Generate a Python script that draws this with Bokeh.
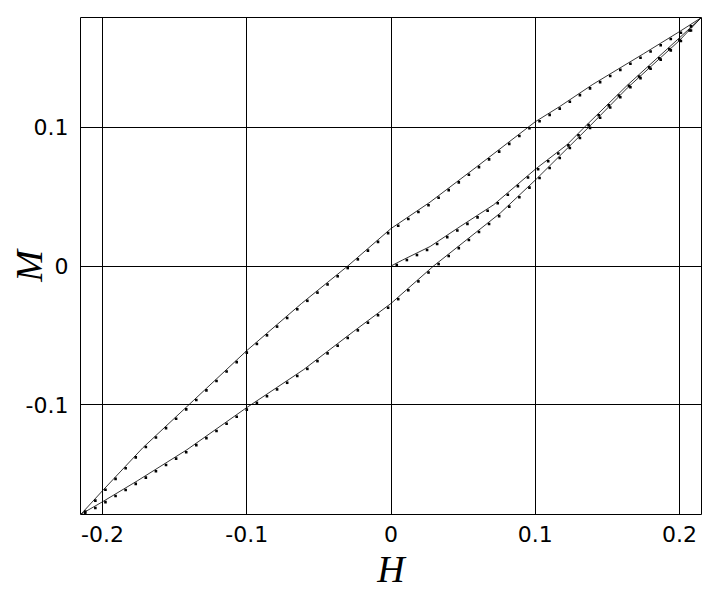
from bokeh.plotting import figure
from bokeh.models import Range1d, FixedTicker
from bokeh.embed import file_html
from bokeh.resources import INLINE

# ---- data ----
x_ticks = [-0.2, -0.1, 0.0, 0.1, 0.2]
x_tick_labels = ["-0.2", "-0.1", "0", "0.1", "0.2"]
y_ticks = [-0.1, 0.0, 0.1]
y_tick_labels = ["-0.1", "0", "0.1"]

# descending (upper) branch - solid line
desc_H = [0.215, 0.200, 0.175, 0.140, 0.117, 0.100, 0.060, 0.027, 0.000, -0.030,
          -0.062, -0.100, -0.137, -0.172, -0.200, -0.215]
desc_M = [0.179, 0.169, 0.153, 0.131, 0.115, 0.104, 0.072, 0.046, 0.027, 0.000,
          -0.027, -0.061, -0.097, -0.131, -0.162, -0.179]

# ascending (lower) branch - solid line
asc_H = [-0.215, -0.200, -0.176, -0.1415, -0.1006, -0.0607, -0.026, 0.000, 0.0295,
         0.0757, 0.1002, 0.137, 0.164, 0.200, 0.215]
asc_M = [-0.179, -0.170, -0.155, -0.1325, -0.1025, -0.0748, -0.0472, -0.027, 0.000,
         0.0381, 0.0621, 0.100, 0.1285, 0.1626, 0.179]

# initial magnetisation curve - solid line
init_H = [0.000, 0.008, 0.0272, 0.048, 0.0711, 0.1002, 0.122, 0.134, 0.164, 0.200, 0.215]
init_M = [0.000, 0.0043, 0.0141, 0.0285, 0.0441, 0.0699, 0.0874, 0.100, 0.1305, 0.1645, 0.179]

# measured points (dots)
desc_dot_H = [0.208, 0.201, 0.194, 0.187, 0.180, 0.173, 0.166, 0.159, 0.152, 0.145,
              0.138, 0.131, 0.124, 0.117, 0.110, 0.103, 0.096, 0.089, 0.082, 0.075,
              0.068, 0.061, 0.054, 0.047, 0.040, 0.033, 0.026, 0.019, 0.012, 0.005,
              -0.002, -0.009, -0.016, -0.023, -0.030, -0.037, -0.044, -0.051, -0.058,
              -0.065, -0.072, -0.079, -0.086, -0.093, -0.100, -0.107, -0.114, -0.121,
              -0.128, -0.135, -0.142, -0.149, -0.156, -0.163, -0.170, -0.177, -0.184,
              -0.191, -0.198, -0.205, -0.212]
desc_dot_M = [0.1728, 0.1682, 0.1637, 0.1592, 0.1547, 0.1502, 0.1458, 0.1414, 0.1370, 0.1326,
              0.1281, 0.1232, 0.1184, 0.1135, 0.1090, 0.1044, 0.0993, 0.0937, 0.0881, 0.0825,
              0.0769, 0.0713, 0.0658, 0.0603, 0.0547, 0.0492, 0.0438, 0.0389, 0.0339, 0.0290,
              0.0237, 0.0174, 0.0111, 0.0048, -0.0015, -0.0074, -0.0133, -0.0192, -0.0251,
              -0.0312, -0.0375, -0.0437, -0.0500, -0.0562, -0.0625, -0.0693, -0.0761, -0.0829,
              -0.0897, -0.0966, -0.1034, -0.1102, -0.1169, -0.1237, -0.1305, -0.1380, -0.1458,
              -0.1535, -0.1613, -0.1692, -0.1771]

asc_dot_H = [-0.212, -0.205, -0.198, -0.191, -0.184, -0.177, -0.170, -0.163, -0.156, -0.149,
             -0.142, -0.135, -0.128, -0.121, -0.114, -0.107, -0.100, -0.093, -0.086, -0.079,
             -0.072, -0.065, -0.058, -0.051, -0.044, -0.037, -0.030, -0.023, -0.016, -0.009,
             -0.002, 0.005, 0.012, 0.019, 0.026, 0.033, 0.040, 0.047, 0.054, 0.061,
             0.068, 0.075, 0.082, 0.089, 0.096, 0.103, 0.110, 0.117, 0.124, 0.131,
             0.138, 0.145, 0.152, 0.159, 0.166, 0.173, 0.180, 0.187, 0.194, 0.201, 0.208]
asc_dot_M = [-0.1787, -0.1745, -0.1703, -0.1659, -0.1615, -0.1571, -0.1526, -0.1480, -0.1435, -0.1389,
             -0.1343, -0.1292, -0.1241, -0.1190, -0.1138, -0.1087, -0.1036, -0.0987, -0.0939, -0.0890,
             -0.0842, -0.0793, -0.0742, -0.0686, -0.0630, -0.0575, -0.0519, -0.0464, -0.0409, -0.0355,
             -0.0301, -0.0239, -0.0175, -0.0111, -0.0047, 0.0014, 0.0072, 0.0129, 0.0187, 0.0245,
             0.0303, 0.0360, 0.0428, 0.0496, 0.0565, 0.0635, 0.0707, 0.0779, 0.0851, 0.0923,
             0.0996, 0.1069, 0.1143, 0.1217, 0.1289, 0.1355, 0.1422, 0.1488, 0.1555, 0.1622, 0.1698]

init_dot_H = [0.004, 0.011, 0.018, 0.025, 0.032, 0.039, 0.046, 0.053, 0.060, 0.067,
              0.074, 0.081, 0.088, 0.095, 0.102, 0.109, 0.116, 0.123, 0.130, 0.137,
              0.144, 0.151, 0.158, 0.165, 0.172, 0.179, 0.186, 0.193, 0.200, 0.207]
init_dot_M = [0.0007, 0.0043, 0.0079, 0.0115, 0.0159, 0.0208, 0.0256, 0.0304, 0.0351, 0.0398,
              0.0452, 0.0514, 0.0576, 0.0638, 0.0698, 0.0755, 0.0811, 0.0870, 0.0943, 0.1016,
              0.1087, 0.1158, 0.1229, 0.1299, 0.1366, 0.1432, 0.1498, 0.1564, 0.1630, 0.1698]

# ---- figure ----
p = figure(width=720, height=594, output_backend="svg", toolbar_location=None,
           x_range=Range1d(-0.2153, 0.2153), y_range=Range1d(-0.1792, 0.1792),
           min_border_left=80, min_border_right=19, min_border_top=17, min_border_bottom=80)
p.background_fill_color = "white"
p.border_fill_color = "white"
p.outline_line_color = "black"
p.outline_line_width = 1

for ax in (p.xaxis[0], p.yaxis[0]):
    ax.axis_line_color = None
    ax.major_tick_line_color = None
    ax.minor_tick_line_color = None
    ax.major_label_text_font = "DejaVu Sans"
    ax.major_label_text_font_size = "22px"
    ax.major_label_text_color = "black"
    ax.major_label_standoff = 6
    ax.axis_label_text_font = "Liberation Serif"
    ax.axis_label_text_font_style = "italic"
    ax.axis_label_text_font_size = "38px"
    ax.axis_label_text_color = "black"

p.xaxis.ticker = FixedTicker(ticks=x_ticks)
p.yaxis.ticker = FixedTicker(ticks=y_ticks)
p.xaxis.major_label_overrides = dict(zip(x_ticks, x_tick_labels))
p.yaxis.major_label_overrides = dict(zip(y_ticks, y_tick_labels))
p.xaxis.major_label_standoff = 5
p.xaxis.axis_label = "H"
p.yaxis.axis_label = "M"
p.xaxis.axis_label_standoff = 3
p.yaxis.axis_label_standoff = -27

p.xgrid.grid_line_color = "black"
p.ygrid.grid_line_color = "black"
p.xgrid.grid_line_width = 1
p.ygrid.grid_line_width = 1

for hx, my in ((desc_H, desc_M), (asc_H, asc_M), (init_H, init_M)):
    p.line(hx, my, line_color="black", line_width=0.8)

for hx, my in ((desc_dot_H, desc_dot_M), (asc_dot_H, asc_dot_M), (init_dot_H, init_dot_M)):
    p.scatter(hx, my, marker="square", size=2.6, fill_color="black", line_color=None)

open("out.html", "w").write(file_html(p, INLINE))
